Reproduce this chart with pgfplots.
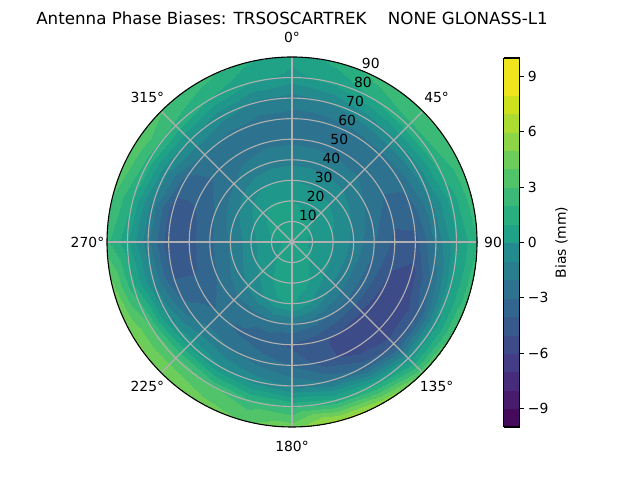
\documentclass[border=0pt]{standalone}
\usepackage{fontspec}
\setmainfont{DejaVu Sans}
\usepackage{pgfplots}
\usepackage{pgfplotstable}
\pgfplotsset{compat=1.18}

\definecolor{gridgray}{HTML}{B0B0B0}

% viridis, one colour per 1 mm band (-10..10), last entry repeated for the top value
\pgfplotsset{
  colormap={viridisbands}{
    rgb255=(70,10,92) rgb255=(72,28,109) rgb255=(71,44,123) rgb255=(68,60,132)
    rgb255=(62,75,137) rgb255=(56,89,140) rgb255=(50,102,142) rgb255=(45,114,142)
    rgb255=(40,126,142) rgb255=(35,139,141) rgb255=(32,151,139) rgb255=(32,162,135)
    rgb255=(41,174,128) rgb255=(58,186,118) rgb255=(81,196,105) rgb255=(108,205,90)
    rgb255=(139,213,71) rgb255=(172,220,49) rgb255=(206,225,31) rgb255=(238,229,31)
    rgb255=(238,229,31)},
}

% azimuth (deg, clockwise from north), zenith (deg), bias (mm)
\pgfplotstableread[row sep=\\]{
az zen b\\
0 0 0.7\\ 15 0 0.7\\ 30 0 0.7\\ 45 0 0.7\\ 60 0 0.7\\ 75 0 0.7\\ 90 0 0.7\\ 105 0 0.7\\ 120 0 0.7\\ 135 0 0.7\\ 150 0 0.7\\ 165 0 0.7\\ 180 0 0.7\\ 195 0 0.7\\ 210 0 0.7\\ 225 0 0.7\\ 240 0 0.7\\ 255 0 0.7\\ 270 0 0.7\\ 285 0 0.7\\ 300 0 0.7\\ 315 0 0.7\\ 330 0 0.7\\ 345 0 0.7\\ 360 0 0.7\\
0 10 0.9\\ 15 10 0.8\\ 30 10 0.7\\ 45 10 0.6\\ 60 10 0.5\\ 75 10 0.4\\ 90 10 0.4\\ 105 10 0.4\\ 120 10 0.5\\ 135 10 0.6\\ 150 10 0.8\\ 165 10 0.9\\ 180 10 1.0\\ 195 10 0.9\\ 210 10 0.7\\ 225 10 0.5\\ 240 10 0.4\\ 255 10 0.3\\ 270 10 0.3\\ 285 10 0.5\\ 300 10 0.8\\ 315 10 1.1\\ 330 10 1.3\\ 345 10 1.1\\ 360 10 0.9\\
0 20 0.5\\ 15 20 0.3\\ 30 20 0.1\\ 45 20 0.0\\ 60 20 -0.2\\ 75 20 -0.4\\ 90 20 -0.5\\ 105 20 -0.5\\ 120 20 -0.4\\ 135 20 -0.2\\ 150 20 0.3\\ 165 20 0.9\\ 180 20 1.2\\ 195 20 1.0\\ 210 20 0.4\\ 225 20 -0.2\\ 240 20 -0.5\\ 255 20 -0.7\\ 270 20 -0.8\\ 285 20 -0.6\\ 300 20 -0.2\\ 315 20 0.3\\ 330 20 0.6\\ 345 20 0.6\\ 360 20 0.5\\
0 30 -0.5\\ 15 30 -0.6\\ 30 30 -0.7\\ 45 30 -0.9\\ 60 30 -1.2\\ 75 30 -1.5\\ 90 30 -1.7\\ 105 30 -1.9\\ 120 30 -2.0\\ 135 30 -1.8\\ 150 30 -1.2\\ 165 30 -0.2\\ 180 30 0.6\\ 195 30 0.3\\ 210 30 -0.6\\ 225 30 -1.3\\ 240 30 -1.8\\ 255 30 -2.2\\ 270 30 -2.3\\ 285 30 -2.0\\ 300 30 -1.5\\ 315 30 -0.9\\ 330 30 -0.5\\ 345 30 -0.4\\ 360 30 -0.5\\
0 40 -1.8\\ 15 40 -1.8\\ 30 40 -1.8\\ 45 40 -2.0\\ 60 40 -2.4\\ 75 40 -2.9\\ 90 40 -3.3\\ 105 40 -3.6\\ 120 40 -3.8\\ 135 40 -3.8\\ 150 40 -3.5\\ 165 40 -3.0\\ 180 40 -2.6\\ 195 40 -2.6\\ 210 40 -2.8\\ 225 40 -2.8\\ 240 40 -3.2\\ 255 40 -3.5\\ 270 40 -3.6\\ 285 40 -3.4\\ 300 40 -3.0\\ 315 40 -2.5\\ 330 40 -2.0\\ 345 40 -1.8\\ 360 40 -1.8\\
0 50 -2.6\\ 15 50 -2.7\\ 30 50 -2.8\\ 45 50 -2.8\\ 60 50 -3.2\\ 75 50 -4.0\\ 90 50 -4.6\\ 105 50 -5.2\\ 120 50 -5.7\\ 135 50 -5.8\\ 150 50 -5.6\\ 165 50 -5.0\\ 180 50 -4.5\\ 195 50 -4.0\\ 210 50 -3.5\\ 225 50 -3.2\\ 240 50 -3.8\\ 255 50 -4.5\\ 270 50 -4.7\\ 285 50 -4.5\\ 300 50 -3.8\\ 315 50 -3.0\\ 330 50 -2.8\\ 345 50 -2.6\\ 360 50 -2.6\\
0 60 -2.8\\ 15 60 -2.8\\ 30 60 -2.7\\ 45 60 -2.6\\ 60 60 -3.0\\ 75 60 -3.8\\ 90 60 -4.6\\ 105 60 -5.6\\ 120 60 -6.2\\ 135 60 -6.2\\ 150 60 -5.8\\ 165 60 -4.8\\ 180 60 -3.4\\ 195 60 -2.8\\ 210 60 -2.4\\ 225 60 -2.0\\ 240 60 -3.2\\ 255 60 -4.5\\ 270 60 -5.0\\ 285 60 -4.8\\ 300 60 -3.6\\ 315 60 -2.4\\ 330 60 -2.6\\ 345 60 -2.8\\ 360 60 -2.8\\
0 70 -1.8\\ 15 70 -1.4\\ 30 70 -0.8\\ 45 70 -0.5\\ 60 70 -0.8\\ 75 70 -1.5\\ 90 70 -2.0\\ 105 70 -3.0\\ 120 70 -4.2\\ 135 70 -4.5\\ 150 70 -3.5\\ 165 70 -2.4\\ 180 70 -1.5\\ 195 70 -0.8\\ 210 70 -0.2\\ 225 70 0.3\\ 240 70 -0.5\\ 255 70 -1.5\\ 270 70 -2.0\\ 285 70 -1.8\\ 300 70 -1.0\\ 315 70 -0.5\\ 330 70 -1.0\\ 345 70 -1.6\\ 360 70 -1.8\\
0 80 0.2\\ 15 80 0.8\\ 30 80 1.6\\ 45 80 2.2\\ 60 80 2.0\\ 75 80 1.0\\ 90 80 0.5\\ 105 80 0.5\\ 120 80 0.3\\ 135 80 0.0\\ 150 80 1.5\\ 165 80 2.0\\ 180 80 2.5\\ 195 80 2.8\\ 210 80 3.5\\ 225 80 3.8\\ 240 80 3.5\\ 255 80 1.8\\ 270 80 0.8\\ 285 80 1.5\\ 300 80 2.2\\ 315 80 2.2\\ 330 80 1.5\\ 345 80 0.6\\ 360 80 0.2\\
0 90 0.8\\ 15 90 1.8\\ 30 90 3.0\\ 45 90 3.5\\ 60 90 3.3\\ 75 90 3.0\\ 90 90 2.5\\ 105 90 3.2\\ 120 90 3.8\\ 135 90 4.5\\ 150 90 6.5\\ 165 90 6.8\\ 180 90 5.0\\ 195 90 4.2\\ 210 90 4.8\\ 225 90 5.2\\ 240 90 5.5\\ 255 90 4.8\\ 270 90 2.8\\ 285 90 3.5\\ 300 90 4.3\\ 315 90 3.5\\ 330 90 2.8\\ 345 90 1.6\\ 360 90 0.8\\
}\biasdata

\begin{document}
\begin{tikzpicture}[font=\fontsize{13.9bp}{16bp}\selectfont]
\begin{axis}[
    at={(107bp,53bp)}, anchor=south west,
    scale only axis, width=370bp, height=370bp,
    xmin=-90, xmax=90, ymin=-90, ymax=90,
    hide axis, clip=false,
    colormap name=viridisbands,
    colormap access=piecewise constant,
    point meta min=-10, point meta max=10,
    colorbar sampled,
    colorbar style={
        samples=21,
        at={(parent axis.north east)}, anchor=north west,
        xshift=18bp, yshift=-1bp,
        scale only axis, width=16bp, height=369bp,
        axis line style={black, line width=1.1bp},
        ytick={-9,-6,-3,0,3,6,9},
        yticklabels={−9,−6,−3,0,3,6,9},
        ytick pos=right, yticklabel pos=right,
        tick align=outside, major tick length=4.9bp,
        tick style={black, line width=1.1bp},
        ylabel={Bias (mm)}, ylabel near ticks,
    },
]
\begin{scope}
\clip (axis cs:0,0) circle[radius=90];
\addplot[surf, shader=interp, mesh/cols=25, mesh/rows=10, point meta=\thisrow{b}]
    table[x expr={1.0087*\thisrow{zen}*sin(\thisrow{az})},
          y expr={1.0087*\thisrow{zen}*cos(\thisrow{az})}] {\biasdata};
\end{scope}

\pgfplotsinvokeforeach{10,20,30,40,50,60,70,80}{
    \draw[gridgray, line width=1.1bp] (axis cs:0,0) circle[radius=#1];
}
\pgfplotsinvokeforeach{0,45,90,135,180,225,270,315}{
    \draw[gridgray, line width=1.1bp] (axis cs:0,0) -- (axis cs:{90*sin(#1)},{90*cos(#1)});
}
\draw[black, line width=1.1bp] (axis cs:0,0) circle[radius=90];

\pgfplotsinvokeforeach{0,45,90,135,180,225,270,315}{
    \node at (axis cs:{99.5*sin(#1)},{99.5*cos(#1)}) {#1°};
}
\pgfplotsinvokeforeach{10,20,30,40,50,60,70,80,90}{
    \node[xshift=8bp, yshift=8bp] at (axis cs:{#1*sin(22.5)},{#1*cos(22.5)}) {#1};
}
\end{axis}
\node at (292bp,462bp) {\fontsize{16.7bp}{19bp}\selectfont Antenna Phase Biases: TRSOSCARTREK\ \ \ \ NONE GLONASS-L1};
\pgfresetboundingbox
\path[use as bounding box] (0,0) rectangle (640bp,480bp);
\end{tikzpicture}
\end{document}
